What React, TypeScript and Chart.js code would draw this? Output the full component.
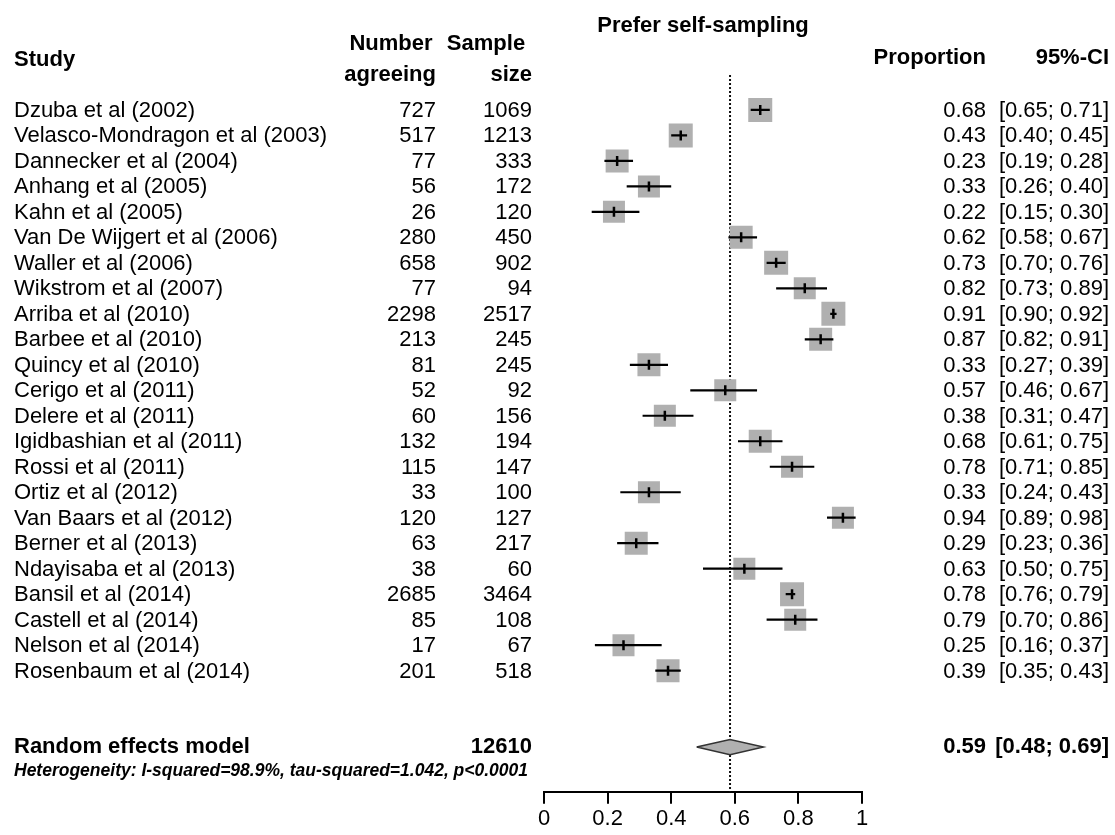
import React, { useEffect, useRef } from 'react';
import { Chart, registerables } from 'chart.js';

Chart.register(...registerables);

const studies = [
  'Dzuba et al (2002)',
  'Velasco-Mondragon et al (2003)',
  'Dannecker et al (2004)',
  'Anhang et al (2005)',
  'Kahn et al (2005)',
  'Van De Wijgert et al (2006)',
  'Waller et al (2006)',
  'Wikstrom et al (2007)',
  'Arriba et al (2010)',
  'Barbee et al (2010)',
  'Quincy et al (2010)',
  'Cerigo et al (2011)',
  'Delere et al (2011)',
  'Igidbashian et al (2011)',
  'Rossi et al (2011)',
  'Ortiz et al (2012)',
  'Van Baars et al (2012)',
  'Berner et al (2013)',
  'Ndayisaba et al (2013)',
  'Bansil et al (2014)',
  'Castell et al (2014)',
  'Nelson et al (2014)',
  'Rosenbaum et al (2014)',
];
const agreeing = [727, 517, 77, 56, 26, 280, 658, 77, 2298, 213, 81, 52, 60, 132, 115, 33, 120, 63, 38, 2685, 85, 17, 201];
const sampleSize = [1069, 1213, 333, 172, 120, 450, 902, 94, 2517, 245, 245, 92, 156, 194, 147, 100, 127, 217, 60, 3464, 108, 67, 518];
const proportion = [0.68, 0.43, 0.23, 0.33, 0.22, 0.62, 0.73, 0.82, 0.91, 0.87, 0.33, 0.57, 0.38, 0.68, 0.78, 0.33, 0.94, 0.29, 0.63, 0.78, 0.79, 0.25, 0.39];
const ciLow = [0.65, 0.40, 0.19, 0.26, 0.15, 0.58, 0.70, 0.73, 0.90, 0.82, 0.27, 0.46, 0.31, 0.61, 0.71, 0.24, 0.89, 0.23, 0.50, 0.76, 0.70, 0.16, 0.35];
const ciHigh = [0.71, 0.45, 0.28, 0.40, 0.30, 0.67, 0.76, 0.89, 0.92, 0.91, 0.39, 0.67, 0.47, 0.75, 0.85, 0.43, 0.98, 0.36, 0.75, 0.79, 0.86, 0.37, 0.43];
const squareSide = [24, 24, 23, 22, 22, 23, 24, 22, 24, 23, 23, 22, 22, 23, 22, 22, 22, 23, 22, 24, 22, 22, 23];

const summaryLabel = 'Random effects model';
const summaryTotal = 12610;
const summaryEst = 0.585;
const summaryLow = 0.48;
const summaryHigh = 0.69;
const summaryText = ['0.59', '[0.48; 0.69]'];
const heterogeneity = 'Heterogeneity: I-squared=98.9%, tau-squared=1.042, p<0.0001';

const axisTicks = [0, 0.2, 0.4, 0.6, 0.8, 1];
const axisTickLabels = ['0', '0.2', '0.4', '0.6', '0.8', '1'];

const SUMMARY_ROW = 25;
const HET_ROW = 25.95;
const Y_MIN = -1.37;
const Y_MAX = 26.75;

const FONT = '"Liberation Sans", Arial, Helvetica, sans-serif';

const fmt = (v: number) => v.toFixed(2);

const textPlugin = {
  id: 'forestText',
  afterDraw(chart: any) {
    const ctx = chart.ctx as CanvasRenderingContext2D;
    const ys = chart.scales.y;
    const py = (r: number) => ys.getPixelForValue(r);
    ctx.save();
    ctx.fillStyle = '#000';
    ctx.textBaseline = 'middle';

    // headers
    ctx.font = `bold 22px ${FONT}`;
    ctx.textAlign = 'center';
    ctx.fillText('Prefer self-sampling', (chart.chartArea.left + chart.chartArea.right) / 2, 26);
    ctx.textAlign = 'left';
    ctx.fillText('Study', 14, 60);
    ctx.textAlign = 'center';
    ctx.fillText('Number', 391, 44);
    ctx.textAlign = 'right';
    ctx.fillText('agreeing', 436, 75);
    ctx.textAlign = 'center';
    ctx.fillText('Sample', 486, 44);
    ctx.textAlign = 'right';
    ctx.fillText('size', 532, 75);
    ctx.fillText('Proportion', 986, 58);
    ctx.fillText('95%-CI', 1109, 58);

    // study rows
    ctx.font = `22px ${FONT}`;
    studies.forEach((name, i) => {
      const y = py(i) + 1;
      ctx.textAlign = 'left';
      ctx.fillText(name, 14, y);
      ctx.textAlign = 'right';
      ctx.fillText(String(agreeing[i]), 436, y);
      ctx.fillText(String(sampleSize[i]), 532, y);
      ctx.fillText(fmt(proportion[i]), 986, y);
      ctx.fillText(`[${fmt(ciLow[i])}; ${fmt(ciHigh[i])}]`, 1109, y);
    });

    // summary
    const ysum = py(SUMMARY_ROW);
    ctx.font = `bold 22px ${FONT}`;
    ctx.textAlign = 'left';
    ctx.fillText(summaryLabel, 14, ysum);
    ctx.textAlign = 'right';
    ctx.fillText(String(summaryTotal), 532, ysum);
    ctx.fillText(summaryText[0], 986, ysum);
    ctx.fillText(summaryText[1], 1109, ysum);

    ctx.font = `italic bold 17.5px ${FONT}`;
    ctx.textAlign = 'left';
    ctx.fillText(heterogeneity, 14, py(HET_ROW));
    ctx.restore();
  },
};

export default function App() {
  const ref = useRef<HTMLCanvasElement | null>(null);
  useEffect(() => {
    if (!ref.current) return;
    const rows = studies.map((_, i) => i);
    const whiskers: any[] = [];
    rows.forEach((i) => {
      whiskers.push({ x: ciLow[i], y: i }, { x: ciHigh[i], y: i }, { x: null, y: null });
    });
    const diamond = [
      { x: summaryLow, y: SUMMARY_ROW },
      { x: summaryEst, y: SUMMARY_ROW - 0.3 },
      { x: summaryHigh, y: SUMMARY_ROW },
      { x: summaryEst, y: SUMMARY_ROW + 0.3 },
      { x: summaryLow, y: SUMMARY_ROW },
    ];
    const chart = new Chart(ref.current, {
      type: 'scatter',
      data: {
        datasets: [
          {
            label: 'ref',
            data: [
              { x: summaryEst, y: Y_MIN },
              { x: summaryEst, y: Y_MAX },
            ],
            showLine: true,
            borderColor: '#111',
            borderWidth: 2,
            borderDash: [2, 2],
            pointRadius: 0,
            order: 5,
          } as any,
          {
            label: 'squares',
            data: rows.map((i) => ({ x: proportion[i], y: i })),
            pointStyle: 'rect',
            pointRadius: squareSide.map((s) => s / Math.SQRT2),
            backgroundColor: '#b0b0b0',
            borderWidth: 0,
            order: 3,
          },
          {
            label: 'ci',
            data: whiskers,
            showLine: true,
            spanGaps: false,
            borderColor: '#000',
            borderWidth: 2.2,
            pointRadius: 0,
            order: 2,
          } as any,
          {
            label: 'est',
            data: rows.map((i) => ({ x: proportion[i], y: i })),
            pointStyle: 'line',
            rotation: 90,
            pointRadius: 5,
            borderColor: '#000',
            borderWidth: 2.5,
            order: 1,
          },
          {
            label: 'diamond',
            data: diamond,
            showLine: true,
            fill: 'shape',
            backgroundColor: '#b0b0b0',
            borderColor: '#333',
            borderWidth: 1.5,
            pointRadius: 0,
            tension: 0,
            order: 4,
          } as any,
        ],
      },
      options: {
        animation: false,
        responsive: false,
        devicePixelRatio: 1,
        layout: { padding: { left: 544, right: 1115 - 862, top: 75, bottom: 0 } },
        plugins: { legend: { display: false }, tooltip: { enabled: false } },
        scales: {
          x: {
            type: 'linear',
            min: 0,
            max: 1,
            position: 'bottom',
            afterBuildTicks: (scale: any) => {
              scale.ticks = axisTicks.map((v) => ({ value: v }));
            },
            ticks: {
              color: '#000',
              font: { family: FONT, size: 22, lineHeight: 1.15 },
              padding: 3,
              maxRotation: 0,
              autoSkip: false,
              callback: (_v: any, idx: number) => axisTickLabels[idx],
            },
            grid: {
              display: true,
              drawOnChartArea: false,
              drawTicks: true,
              tickLength: 12,
              color: '#000',
              lineWidth: 2,
            },
            border: { display: true, color: '#000', width: 2 },
          },
          y: {
            type: 'linear',
            display: false,
            reverse: true,
            min: Y_MIN,
            max: Y_MAX,
          },
        },
      },
      plugins: [textPlugin],
    });
    return () => chart.destroy();
  }, []);
  return (
    <div style={{ position: 'fixed', left: 0, top: 0, width: 1115, height: 835, background: '#fff' }}>
      <canvas ref={ref} width={1115} height={835} style={{ width: 1115, height: 835 }} />
    </div>
  );
}
